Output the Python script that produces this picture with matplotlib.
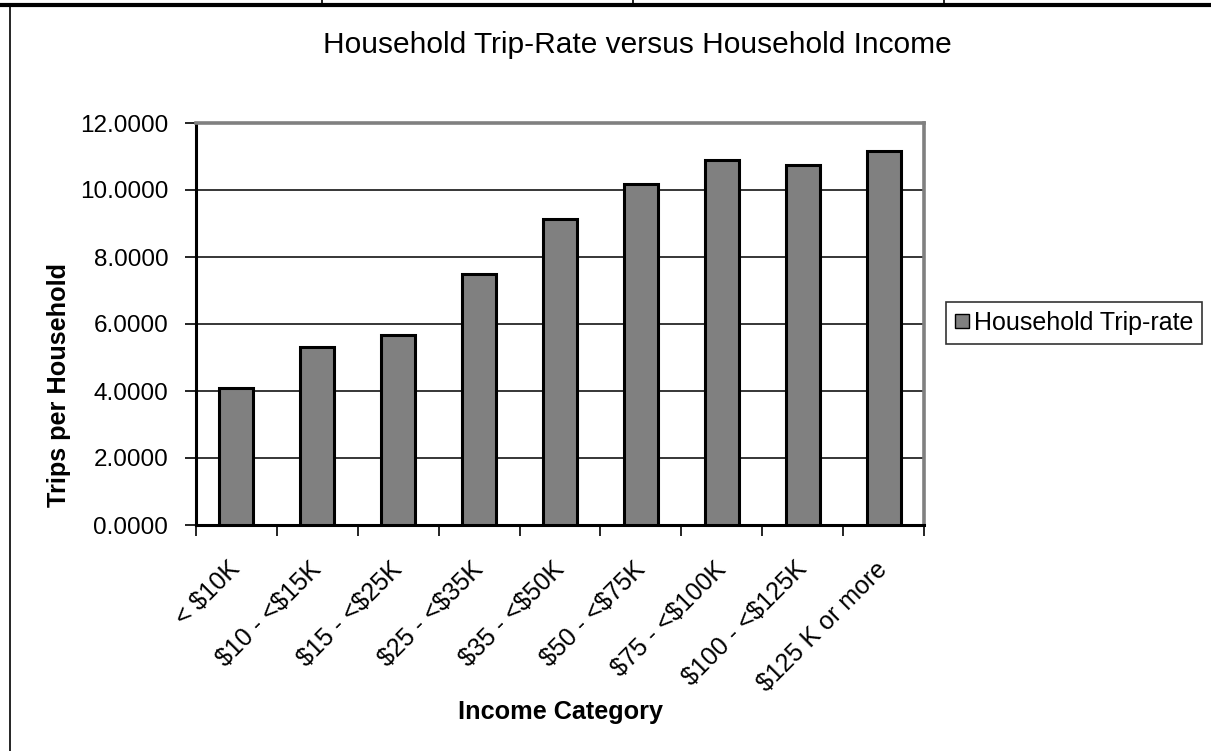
import matplotlib
matplotlib.use("Agg")
import matplotlib.pyplot as plt
from matplotlib.lines import Line2D
from matplotlib.transforms import ScaledTranslation
from matplotlib.ticker import FixedLocator, NullFormatter, FuncFormatter

# Income categories and average household trip rates
categories = ["< $10K", "$10 - <$15K", "$15 - <$25K", "$25 - <$35K", "$35 - <$50K",
              "$50 - <$75K", "$75 - <$100K", "$100 - <$125K", "$125 K or more"]
trip_rate = [4.10, 5.32, 5.67, 7.48, 9.12, 10.19, 10.90, 10.76, 11.17]
y_ticks = [0, 2, 4, 6, 8, 10, 12]
series_name = "Household Trip-rate"

plt.rcParams["font.family"] = ["Liberation Sans", "DejaVu Sans"]

W, H = 1211, 751
fig = plt.figure(figsize=(W / 100, H / 100), dpi=100)
fig.patch.set_facecolor("white")

# plot area in pixel coordinates
px_left, px_right, px_top, px_bottom = 196, 924, 123, 525
ax = fig.add_axes([px_left / W, 1 - px_bottom / H,
                   (px_right - px_left) / W, (px_bottom - px_top) / H])

x = list(range(len(categories)))
bars = ax.bar(x, trip_rate, width=0.42, color="#808080", edgecolor="black",
              linewidth=2.2, zorder=3, label=series_name)

ax.set_xlim(-0.5, len(categories) - 0.5)
ax.set_ylim(0, 12)
ax.set_yticks(y_ticks)
ax.yaxis.set_major_formatter(FuncFormatter(lambda v, p: f"{v:.4f}"))
ax.grid(axis="y", color="black", linewidth=1.1, zorder=1)
ax.set_axisbelow(True)

# category labels at bar centres (dollar signs escaped from mathtext),
# tick marks at the category boundaries
ax.set_xticks(x)
ax.set_xticklabels([c.replace("$", r"\$") for c in categories], rotation=45,
                   ha="right", rotation_mode="anchor", fontsize=18)
ax.tick_params(axis="x", which="major", length=0, pad=23)
shift = ScaledTranslation(-6 / 72, 0, fig.dpi_scale_trans)
for lbl in ax.get_xticklabels():
    lbl.set_transform(lbl.get_transform() + shift)
ax.xaxis.set_minor_locator(FixedLocator([i - 0.5 for i in range(len(categories) + 1)]))
ax.xaxis.set_minor_formatter(NullFormatter())
ax.tick_params(axis="x", which="minor", length=8, width=1.2, color="black")
ax.tick_params(axis="y", which="major", length=8, width=1.2, labelsize=17.5, pad=12)

for side in ("left", "bottom"):
    ax.spines[side].set_color("black")
    ax.spines[side].set_linewidth(2.2)
for side in ("top", "right"):
    ax.spines[side].set_color("#808080")
    ax.spines[side].set_linewidth(2.6)

# titles
fig.text(637 / W, 1 - 45 / H, "Household Trip-Rate versus Household Income",
         ha="center", va="center", fontsize=21.5)
fig.text(59 / W, 1 - 385 / H, "Trips per Household", rotation=90,
         ha="center", va="center", fontsize=18.2, fontweight="bold")
fig.text(560 / W, 1 - 712 / H, "Income Category", ha="center", va="center",
         fontsize=18.2, fontweight="bold")

# legend
handle = Line2D([], [], marker="s", linestyle="none", markersize=10,
                markerfacecolor="#808080", markeredgecolor="black", markeredgewidth=1)
leg = fig.legend([handle], [series_name], loc="center left",
                 bbox_to_anchor=(946 / W, 1 - 323 / H), fontsize=18,
                 frameon=True, fancybox=False, borderaxespad=0,
                 handlelength=0.6, handletextpad=0.15, borderpad=0.35)
leg.get_frame().set_edgecolor("black")
leg.get_frame().set_linewidth(1.2)

# surrounding table frame
fig.add_artist(Line2D([0, 1], [1 - 5 / H, 1 - 5 / H], transform=fig.transFigure,
                      color="black", linewidth=3))
for xp in (322, 633, 944):
    fig.add_artist(Line2D([xp / W, xp / W], [1, 1 - 5 / H], transform=fig.transFigure,
                          color="black", linewidth=1.2))
fig.add_artist(Line2D([10 / W, 10 / W], [1 - 5 / H, 0], transform=fig.transFigure,
                      color="black", linewidth=1.2))

fig.savefig("out.png", dpi=100, facecolor="white")
